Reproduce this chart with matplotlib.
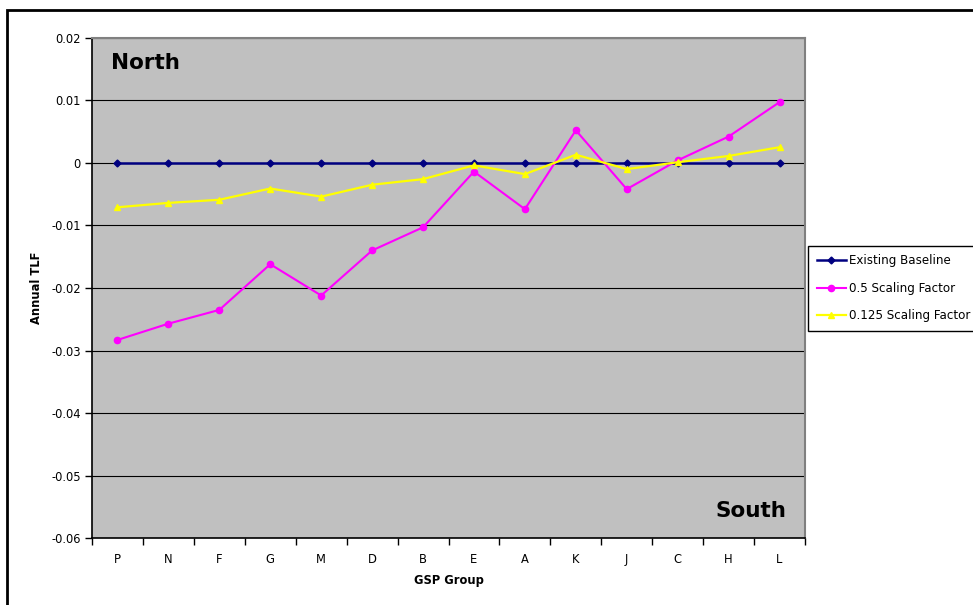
import matplotlib
matplotlib.use("Agg")
import matplotlib.pyplot as plt
from matplotlib.patches import Rectangle

groups = ["P", "N", "F", "G", "M", "D", "B", "E", "A", "K", "J", "C", "H", "L"]
baseline = [0.0] * 14
scale_05 = [-0.0283, -0.0257, -0.0235, -0.0162, -0.0212, -0.0140, -0.0103,
            -0.0014, -0.0074, 0.0052, -0.0042, 0.0004, 0.0042, 0.0097]
scale_0125 = [-0.0071, -0.0064, -0.0059, -0.0041, -0.0054, -0.0035, -0.0026,
              -0.0004, -0.0018, 0.0013, -0.0010, 0.0001, 0.0011, 0.0025]
y_ticks = [0.02, 0.01, 0, -0.01, -0.02, -0.03, -0.04, -0.05, -0.06]
y_tick_labels = ["0.02", "0.01", "0", "-0.01", "-0.02", "-0.03", "-0.04", "-0.05", "-0.06"]

W, H = 973, 605
fig = plt.figure(figsize=(W / 100, H / 100), dpi=100)
plt.rcParams['font.family'] = ['DejaVu Sans']

# outer chart frame (runs off the right and bottom edges)
fig.patches.append(Rectangle((7 / W, -0.1), 1.2, 1 - 10 / H + 0.1,
                             transform=fig.transFigure, fill=False,
                             edgecolor="black", linewidth=2, zorder=0))

ax = fig.add_axes([92 / W, 1 - 538.3 / H, (805 - 92) / W, (538.3 - 37.7) / H])
ax.set_facecolor("#C0C0C0")

x = list(range(len(groups)))
ax.plot(x, baseline, color="#000080", lw=1.8, marker="D", ms=3.5,
        label="Existing Baseline", zorder=3)
ax.plot(x, scale_05, color="#FF00FF", lw=1.5, marker="o", ms=4.5,
        label="0.5 Scaling Factor", zorder=4)
ax.plot(x, scale_0125, color="#FFFF00", lw=1.6, marker="^", ms=5,
        label="0.125 Scaling Factor", zorder=5)

ax.set_xlim(-0.5, len(groups) - 0.5)
ax.set_ylim(-0.06, 0.02)
ax.set_yticks(y_ticks)
ax.set_yticklabels(y_tick_labels, fontsize=8.3)
ax.yaxis.grid(True, color="black", lw=0.8)
ax.set_axisbelow(True)

ax.set_xticks(x)
ax.set_xticklabels(groups, fontsize=8.3)
ax.set_xticks([i - 0.5 for i in range(len(groups) + 1)], minor=True)
ax.tick_params(axis="x", which="major", length=0, pad=10.5)
ax.tick_params(axis="x", which="minor", length=5, width=1, direction="out", color="black")
ax.tick_params(axis="y", length=5, width=1, direction="out", color="black", pad=3)

for side in ("top", "right"):
    ax.spines[side].set_color("#808080")
    ax.spines[side].set_linewidth(1.5)
for side in ("left", "bottom"):
    ax.spines[side].set_color("black")
    ax.spines[side].set_linewidth(1.2)

ax.set_xlabel("GSP Group", fontsize=8.3, fontweight="bold", labelpad=6)
ax.set_ylabel("Annual TLF", fontsize=8.3, fontweight="bold", labelpad=6)

ax.text(0.026, 0.97, "North", transform=ax.transAxes, fontsize=15.5,
        fontweight="bold", ha="left", va="top")
ax.text(0.974, 0.034, "South", transform=ax.transAxes, fontsize=15.5,
        fontweight="bold", ha="right", va="bottom")

leg = fig.legend(loc="upper left", bbox_to_anchor=(808 / W, 1 - 245.5 / H),
                 fontsize=8.6, frameon=True, fancybox=False, edgecolor="black",
                 framealpha=1, handlelength=2.4, handletextpad=0.3,
                 borderpad=0.75, labelspacing=1.2, borderaxespad=0)
leg.get_frame().set_linewidth(1)

fig.savefig("out.png", dpi=100)
